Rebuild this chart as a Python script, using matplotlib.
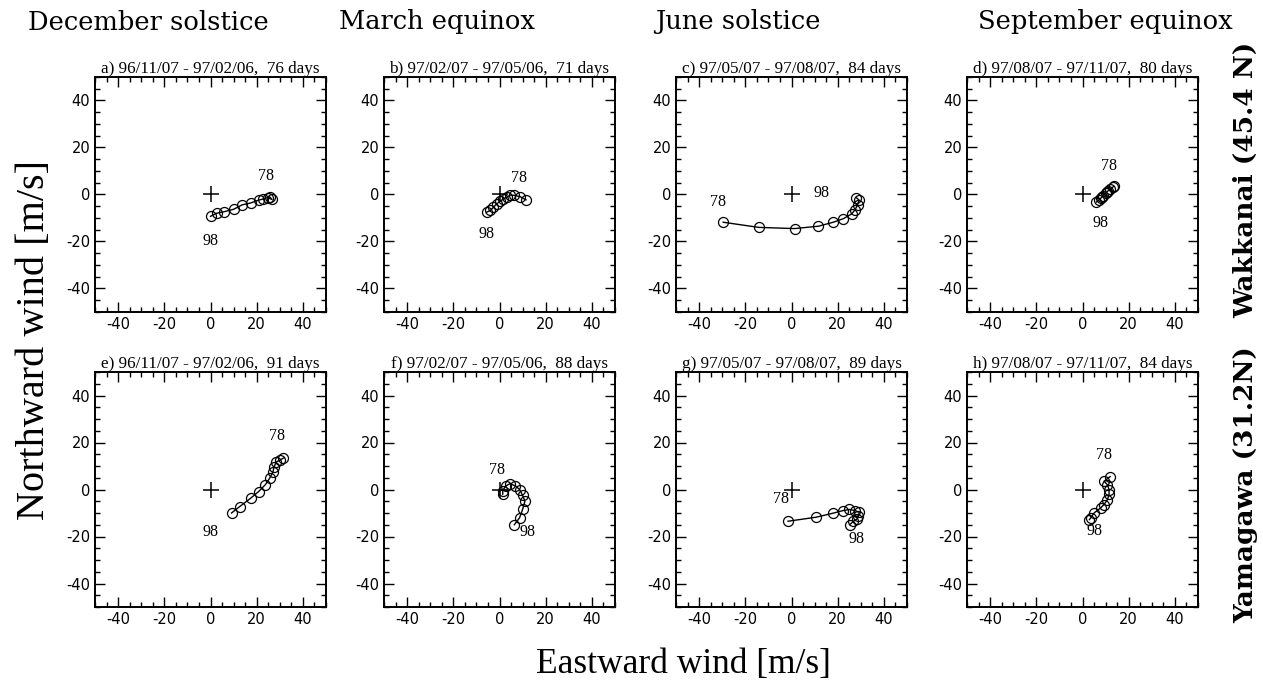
import matplotlib
matplotlib.use("Agg")
import matplotlib.pyplot as plt
from matplotlib.ticker import MultipleLocator

plt.rcParams["axes.unicode_minus"] = False

SEASONS = ["December solstice", "March equinox", "June solstice", "September equinox"]
STATIONS = ["Wakkanai (45.4 N)", "Yamagawa (31.2N)"]
TITLES = [
    "a) 96/11/07 - 97/02/06,  76 days",
    "b) 97/02/07 - 97/05/06,  71 days",
    "c) 97/05/07 - 97/08/07,  84 days",
    "d) 97/08/07 - 97/11/07,  80 days",
    "e) 96/11/07 - 97/02/06,  91 days",
    "f) 97/02/07 - 97/05/06,  88 days",
    "g) 97/05/07 - 97/08/07,  89 days",
    "h) 97/08/07 - 97/11/07,  84 days",
]

# mean winds at 78, 80, ... 98 km (eastward u, northward v), m/s
U_A = [25.6, 26.6, 24.7, 22.9, 20.8, 17.4, 13.7, 10.0, 6.0, 2.6, 0.0]
V_A = [-1.0, -2.1, -1.3, -1.9, -2.4, -3.6, -4.4, -6.3, -7.3, -8.0, -9.3]
U_B = [11.5, 8.9, 6.4, 4.6, 3.2, 1.7, 0.3, -1.2, -2.6, -4.0, -5.5]
V_B = [-2.3, -0.9, -0.4, -0.2, -1.1, -1.9, -2.8, -4.0, -5.4, -6.8, -7.5]
U_C = [-29.6, -14.1, 1.3, 11.6, 18.1, 22.4, 26.0, 27.6, 28.6, 29.3, 28.1]
V_C = [-11.8, -14.0, -14.5, -13.5, -11.8, -10.3, -8.3, -6.4, -4.3, -2.4, -1.4]
U_D = [13.5, 13.0, 12.0, 11.0, 10.5, 10.0, 9.0, 8.5, 8.0, 7.0, 6.0]
V_D = [3.5, 3.0, 2.5, 1.5, 1.0, 0.5, -0.5, -1.0, -1.5, -2.5, -3.2]
U_E = [31.6, 29.9, 28.4, 27.5, 27.0, 25.6, 23.7, 20.8, 17.4, 12.6, 9.1]
V_E = [13.4, 12.4, 11.7, 9.5, 7.4, 4.8, 2.0, -0.9, -3.7, -7.3, -10.0]
U_F = [1.4, 1.4, 2.7, 4.6, 6.9, 8.7, 10.0, 11.0, 10.0, 8.7, 6.4]
V_F = [-2.0, -0.5, 1.5, 2.5, 1.5, 0.0, -2.5, -5.0, -8.5, -12.0, -15.0]
U_G = [-1.5, 10.6, 17.9, 22.2, 25.0, 27.6, 29.3, 29.0, 28.4, 26.8, 25.2]
V_G = [-13.5, -11.8, -10.1, -9.0, -8.5, -9.0, -9.7, -11.4, -12.5, -13.5, -15.0]
U_H = [12.0, 9.3, 10.8, 11.5, 11.5, 10.8, 9.3, 7.9, 5.0, 3.6, 3.0]
V_H = [5.5, 3.5, 2.0, 0.0, -2.0, -4.3, -6.4, -7.8, -10.0, -12.0, -12.8]

U_ALL = [U_A, U_B, U_C, U_D, U_E, U_F, U_G, U_H]
V_ALL = [V_A, V_B, V_C, V_D, V_E, V_F, V_G, V_H]

# where the "78" / "98" height labels sit (data coords)
LBL78 = [(24, 8), (8.6, 7), (-32, -3), (11.6, 12), (29, 22.6), (-1, 8.5), (-4.5, -4), (9.4, 14.5)]
LBL98 = [(0, -20), (-5.6, -17), (13, 0.5), (7.8, -12), (0, -18), (12, -18), (28, -21), (5, -17.5)]

W, H = 1263, 688
COL_LEFT = [95, 384, 676, 967]
ROW_TOP = [77, 372]
AX_W, AX_H = 231, 235
HEAD_X = [148, 437, 738, 1105]
SIDE_Y = [180, 485]

serif = "Liberation Serif"
wide_serif = "DejaVu Serif"


def make_axes(fig, col, row):
    left = COL_LEFT[col] / W
    bottom = 1 - (ROW_TOP[row] + AX_H) / H
    ax = fig.add_axes([left, bottom, AX_W / W, AX_H / H])
    ax.set_xlim(-50, 50)
    ax.set_ylim(-50, 50)
    ax.xaxis.set_major_locator(MultipleLocator(20))
    ax.yaxis.set_major_locator(MultipleLocator(20))
    ax.xaxis.set_minor_locator(MultipleLocator(5))
    ax.yaxis.set_minor_locator(MultipleLocator(5))
    ax.tick_params(which="both", direction="in", top=True, right=True,
                   labelsize=10.5, width=1.0)
    ax.tick_params(which="major", length=7)
    ax.tick_params(which="minor", length=3.5)
    for s in ax.spines.values():
        s.set_linewidth(1.4)
    return ax


def main():
    fig = plt.figure(figsize=(W / 100, H / 100), dpi=100)
    for i in range(8):
        row, col = divmod(i, 4)
        ax = make_axes(fig, col, row)
        ax.plot(U_ALL[i], V_ALL[i], color="black", lw=1.0, marker="o",
                markersize=7.2, markerfacecolor="none", markeredgewidth=0.9)
        ax.plot([0], [0], marker="+", color="black", markersize=11, mew=1.1)
        ax.text(*LBL78[i], "78", fontsize=11.5, family=serif, ha="center", va="center")
        ax.text(*LBL98[i], "98", fontsize=11.5, family=serif, ha="center", va="center")
        ax.set_title(TITLES[i], fontsize=12.3, family=serif, pad=3)

    for col, name in enumerate(SEASONS):
        fig.text(HEAD_X[col] / W, 1 - 22 / H, name, ha="center", va="center",
                 fontsize=18.5, family=wide_serif)

    for row, name in enumerate(STATIONS):
        fig.text(1246 / W, 1 - SIDE_Y[row] / H, name, ha="center", va="center",
                 rotation=90, fontsize=19, family=wide_serif, fontweight="bold")

    fig.text(35 / W, 1 - 340 / H, "Northward wind [m/s]", ha="center", va="center",
             rotation=90, fontsize=29, family=serif)
    fig.text(683 / W, 1 - 664 / H, "Eastward wind [m/s]", ha="center", va="center",
             fontsize=25.5, family=serif)

    fig.savefig("out.png", dpi=100)


if __name__ == "__main__":
    main()
